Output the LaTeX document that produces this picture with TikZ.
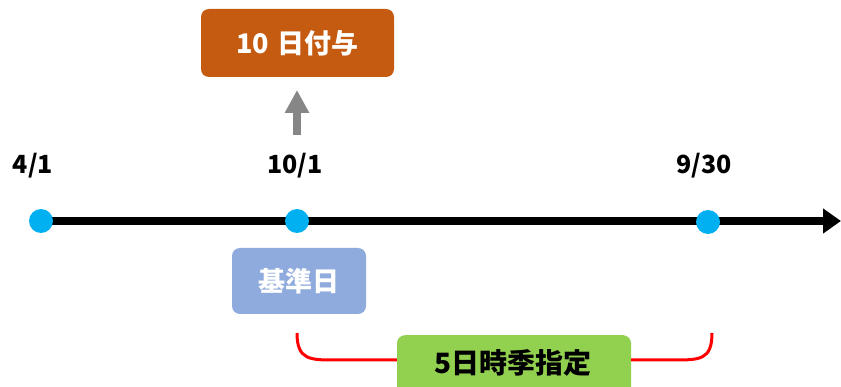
\documentclass[tikz,border=0pt]{standalone}
\usepackage{fontspec}
\setmainfont{Noto Sans CJK JP}
\usetikzlibrary{arrows.meta}
\definecolor{orangebox}{HTML}{C55A11}
\definecolor{bluebox}{HTML}{8FAADC}
\definecolor{greenbox}{HTML}{92D050}
\definecolor{dotblue}{HTML}{00B0F0}
\tikzset{
  x=1pt, y=-1pt,
  rbox/.style={rounded corners=8pt, inner sep=0pt},
  dot/.style={circle, fill=dotblue, minimum size=24pt, inner sep=0pt},
  datelbl/.style={font=\bfseries\fontsize{25}{27}\selectfont, text=black},
}
\begin{document}
\begin{tikzpicture}
\clip (0,0) rectangle (841,387);
\fill[white] (0,0) rectangle (841,387);
% timeline
\coordinate (ls) at (41,221);
\coordinate (le) at (841,221);
\draw[line width=8pt, -{Triangle[length=18pt,width=24pt]}] (ls) -- (le);
\node[dot] (d1) at (41,221) {};
\node[dot] (d2) at (297,221) {};
\node[dot] (d3) at (708,222) {};
\node[datelbl] (l1) at (33,166) {4/1};
\node[datelbl] (l2) at (295,166) {10/1};
\node[datelbl] (l3) at (704,166) {9/30};
% orange box
\node[rbox, fill=orangebox, minimum width=193pt, minimum height=68pt, text=white,
  font=\bfseries\fontsize{27}{29}\selectfont] (give) at (297.5,43) {10\,\,日付与};
% gray arrow
\coordinate (gb) at (297,135);
\coordinate (gt) at (297,90);
\draw[line width=8pt, draw=gray!95, -{Triangle[length=23pt,width=23pt]}] (gb) -- (gt);
% blue box
\node[rbox, fill=bluebox, minimum width=134pt, minimum height=66pt, text=white,
  font=\bfseries\fontsize{27}{29}\selectfont] (base) at (299,281) {基準日};
% green box
\node[rbox, fill=greenbox, minimum width=234pt, minimum height=70pt, anchor=north] (green) at (514,335) {};
\node[font=\bfseries\fontsize{28}{30}\selectfont] (gtext) at (513,363) {5日時季指定};
% red bracket
\coordinate (rl) at (297,333);
\coordinate (rr) at (712,333);
\draw[red, line width=3pt] (rl) .. controls (297,360) and (310,360) .. (335,360) -- (green.west |- 0,360);
\draw[red, line width=3pt] (green.east |- 0,360) -- (673,360) .. controls (700,360) and (712,360) .. (rr);
\end{tikzpicture}
\end{document}
